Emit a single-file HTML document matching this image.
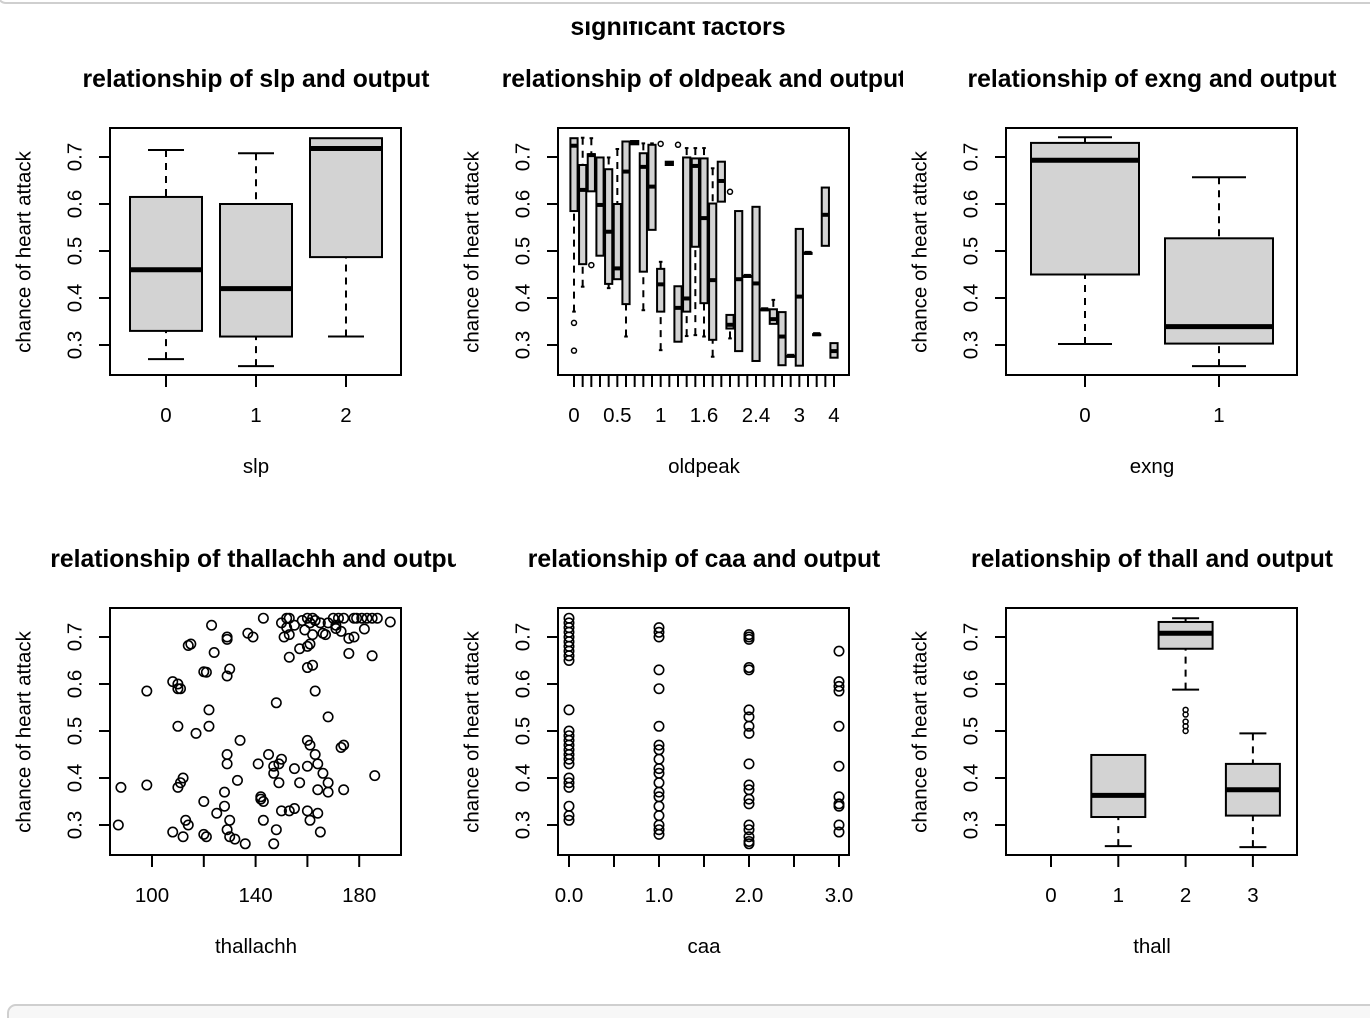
<!DOCTYPE html>
<html><head><meta charset="utf-8"><style>
html,body{margin:0;padding:0;background:#fff;}
svg{display:block;font-family:"Liberation Sans",Arial,sans-serif;}
</style></head><body>
<svg id="c" width="1370" height="1018" xmlns="http://www.w3.org/2000/svg">
<defs>
<clipPath id="col0"><rect x="0" y="0" width="456" height="1018"/></clipPath>
<clipPath id="col1"><rect x="457" y="0" width="446" height="1018"/></clipPath>
<clipPath id="col2"><rect x="913" y="0" width="457" height="1018"/></clipPath>
</defs>
<text x="678" y="35" font-size="25" font-weight="bold" text-anchor="middle">significant factors</text>
<rect x="0" y="0" width="1370" height="21" fill="#fff"/>
<rect x="-2" y="-20" width="1380" height="23" rx="8" fill="#fff" stroke="#cfcfcf" stroke-width="2"/>
<rect x="8" y="1005" width="1380" height="30" rx="8" fill="#f7f7f7" stroke="#cfcfcf" stroke-width="2"/>
</svg>
<script>
// ---- data ----
const slpCats=["0","1","2"];
const slpLo=[0.27,0.255,0.318],slpQ1=[0.33,0.318,0.487],slpMed=[0.46,0.42,0.718],slpQ3=[0.615,0.60,0.74],slpHi=[0.715,0.708,0.74];
const exCats=["0","1"];
const exLo=[0.302,0.255],exQ1=[0.45,0.303],exMed=[0.693,0.339],exQ3=[0.73,0.527],exHi=[0.742,0.657];
const thCats=["0","1","2","3"];
const thLo=[null,0.255,0.588,0.253],thQ1=[null,0.317,0.675,0.32],thMed=[null,0.363,0.708,0.375],thQ3=[null,0.449,0.732,0.43],thHi=[null,0.45,0.74,0.495];
const thOut=[[],[],[0.545,0.535,0.52,0.51,0.50],[]];
const olCats=["0","0.1","0.2","0.3","0.4","0.5","0.6","0.7","0.8","0.9","1","1.1","1.2","1.4","1.5","1.6","1.8","1.9","2","2.2","2.3","2.4","2.5","2.6","2.8","2.9","3","3.2","3.4","3.6","4"];
const olTickLabels={0:"0",5:"0.5",10:"1",15:"1.6",21:"2.4",26:"3",30:"4"};
const olQ1=[0.585,0.472,0.627,0.49,0.43,0.44,0.387,0.727,0.456,0.545,0.371,0.683,0.307,0.371,0.509,0.389,0.311,0.605,0.335,0.287,0.447,0.266,0.376,0.345,0.257,0.277,0.256,0.496,0.323,0.511,0.273];
const olMed=[0.724,0.63,0.704,0.598,0.541,0.463,0.669,0.73,0.679,0.637,0.429,0.686,0.379,0.399,0.681,0.57,0.438,0.649,0.343,0.44,0.447,0.431,0.376,0.355,0.318,0.277,0.403,0.496,0.323,0.577,0.287];
const olQ3=[0.74,0.683,0.706,0.699,0.674,0.60,0.733,0.734,0.708,0.726,0.462,0.69,0.425,0.699,0.697,0.697,0.601,0.69,0.364,0.585,0.447,0.594,0.376,0.376,0.37,0.277,0.547,0.496,0.323,0.635,0.304];
const olLo=[0.371,0.424,0.627,0.49,0.421,0.44,0.318,0.727,0.374,0.545,0.289,0.683,0.307,0.319,0.321,0.318,0.275,0.605,0.314,0.287,0.447,0.266,0.376,0.345,0.257,0.277,0.256,0.496,0.323,0.511,0.273];
const olHi=[0.74,0.741,0.74,0.699,0.699,0.717,0.733,0.734,0.729,0.729,0.477,0.69,0.425,0.719,0.719,0.719,0.676,0.672,0.364,0.585,0.447,0.594,0.376,0.396,0.37,0.277,0.547,0.496,0.323,0.635,0.304];
const olOut=[[0.347,0.288],[],[0.47],[],[],[],[],[],[],[],[0.728],[],[0.726],[],[],[],[],[],[0.626],[],[],[],[],[],[],[],[],[],[],[],[]];
const thalX=[123,143,150,152,153,155,158,160,161,162,163,165,168,170,171,172,174,178,179,181,183,185,187,192,182,171,173,152,159,166,162,153,151,167,178,176,137,139,129,129,115,114,124,161,160,157,153,176,185,162,160,129,130,110,108,110,111,98,163,120,121,
122,148,122,110,117,168,134,160,161,174,173,163,145,129,129,141,149,150,147,147,155,160,164,166,186,149,157,164,168,168,174,133,112,98,88,111,110,120,128,143,155,153,142,142,128,125,130,150,160,113,114,129,161,143,164,87,108,132,130,120,148,112,121,136,147,165];
const thalY=[0.725,0.74,0.73,0.74,0.74,0.725,0.735,0.74,0.73,0.74,0.735,0.73,0.73,0.74,0.725,0.74,0.74,0.74,0.74,0.74,0.74,0.74,0.74,0.732,0.717,0.718,0.712,0.72,0.715,0.708,0.705,0.705,0.70,0.705,0.70,0.697,0.708,0.70,0.70,0.695,0.685,0.682,0.667,0.685,0.68,0.675,0.657,0.665,0.66,0.64,0.635,0.617,0.632,0.59,0.605,0.60,0.59,0.585,0.585,0.626,0.625,
0.545,0.56,0.51,0.51,0.495,0.53,0.48,0.48,0.47,0.47,0.465,0.45,0.45,0.45,0.43,0.43,0.43,0.44,0.425,0.41,0.42,0.425,0.43,0.41,0.405,0.39,0.39,0.375,0.37,0.39,0.375,0.395,0.40,0.385,0.38,0.39,0.38,0.35,0.37,0.35,0.335,0.33,0.355,0.36,0.34,0.325,0.31,0.33,0.33,0.31,0.30,0.29,0.31,0.31,0.325,0.30,0.285,0.27,0.275,0.28,0.29,0.275,0.275,0.26,0.26,0.285];
const caaX=[0,0,0,0,0,0,0,0,0,0,0,0,0,0,0,0,0,0,0,0,0,0,0,0,0,1,1,1,1,1,1,1,1,1,1,1,1,1,1,1,1,1,1,1,2,2,2,2,2,2,2,2,2,2,2,2,2,2,2,2,2,2,2,3,3,3,3,3,3,3,3,3,3,3];
const caaY=[0.74,0.73,0.72,0.71,0.70,0.69,0.68,0.67,0.66,0.65,0.545,0.50,0.49,0.48,0.47,0.46,0.45,0.44,0.43,0.40,0.39,0.38,0.34,0.32,0.31,
0.72,0.71,0.70,0.63,0.59,0.51,0.47,0.46,0.44,0.42,0.41,0.39,0.37,0.36,0.34,0.32,0.30,0.29,0.28,
0.705,0.70,0.695,0.635,0.63,0.545,0.53,0.51,0.495,0.43,0.385,0.375,0.355,0.345,0.30,0.29,0.275,0.265,0.26,
0.67,0.605,0.595,0.585,0.51,0.425,0.36,0.345,0.34,0.30,0.285];
const yTicks=[0.3,0.4,0.5,0.6,0.7];
const thalTicks=[100,120,140,160,180], thalLabels=["100","","140","","180"];
const caaTicks=[0,0.5,1,1.5,2,2.5,3], caaLabels=["0.0","","1.0","","2.0","","3.0"];

// ---- drawing ----
const svg=document.getElementById('c');
const NS="http://www.w3.org/2000/svg";
function mk(tag,attrs,parent,name){const e=document.createElementNS(NS,tag);for(const k in attrs)e.setAttribute(k,attrs[k]);(parent||svg).appendChild(e);


return e;}
const W=291,H=247;
function panel(px,py,title,xlab,key,col){
  const g=mk('g',{},svg,key+'-panel');
  const yS=v=>py+217-(v-0.3)*470;
  const t=mk('text',{x:px+146,y:py-41,'font-size':24.7,'font-weight':'bold','text-anchor':'middle','clip-path':`url(#col${col})`},g,key+'-title');t.textContent=title;
  mk('rect',{x:px,y:py,width:W,height:H,fill:'none',stroke:'#000','stroke-width':2},g,key+'-plot-box');
  yTicks.forEach(v=>{const y=yS(v);
    mk('line',{x1:px-11,x2:px,y1:y,y2:y,stroke:'#000','stroke-width':2},g,key+'-y-tick');
    const l=mk('text',{x:px-35,y:y,'font-size':20.5,'text-anchor':'middle',transform:`rotate(-90 ${px-35} ${y})`,'dominant-baseline':'central'},g,key+'-y-tick-label');l.textContent=v.toFixed(1);});
  const yl=mk('text',{x:px-86,y:py+124,'font-size':20.5,'text-anchor':'middle',transform:`rotate(-90 ${px-86} ${py+124})`,'dominant-baseline':'central'},g,key+'-y-axis-title');yl.textContent='chance of heart attack';
  const xl=mk('text',{x:px+146,y:py+345,'font-size':20.5,'text-anchor':'middle'},g,key+'-x-axis-title');xl.textContent=xlab;
  return {g,yS};
}
function xAxis(g,px,py,xs,labels,key){
  xs.forEach((x,i)=>{mk('line',{x1:x,x2:x,y1:py+H,y2:py+H+12,stroke:'#000','stroke-width':2},g,key+'-x-tick');
    if(labels[i]){const t=mk('text',{x:x,y:py+H+47,'font-size':20.5,'text-anchor':'middle'},g,key+'-x-tick-label');t.textContent=labels[i];}});
}
function boxes(g,yS,xS,hw,lo,q1,med,q3,hi,outs,key,medW){
  lo.forEach((_,i)=>{if(lo[i]==null)return;const x=xS(i);
    const b=mk('g',{},g,key+'-box-'+i);
    [[hi[i],q3[i]],[lo[i],q1[i]]].forEach(([w,q])=>{if(Math.abs(yS(w)-yS(q))>1){
      mk('line',{x1:x,x2:x,y1:yS(w),y2:yS(q),stroke:'#000','stroke-width':2,'stroke-dasharray':'7 6'},b,key+'-whisker');
      mk('line',{x1:x-hw/2,x2:x+hw/2,y1:yS(w),y2:yS(w),stroke:'#000','stroke-width':2},b,key+'-staple');}});
    mk('rect',{x:x-hw,y:yS(q3[i]),width:2*hw,height:Math.max(1,yS(q1[i])-yS(q3[i])),fill:'#d3d3d3',stroke:'#000','stroke-width':2},b,key+'-box-body');
    mk('line',{x1:x-hw,x2:x+hw,y1:yS(med[i]),y2:yS(med[i]),stroke:'#000','stroke-width':medW||5},b,key+'-median');
    (outs[i]||[]).forEach(v=>mk('circle',{cx:x,cy:yS(v),r:2.5,fill:'none',stroke:'#000','stroke-width':1.5},b,key+'-outlier'));
  });
}
let p=panel(110,128,'relationship of slp and output','slp','slp',0);
{const xS=i=>166+i*90; boxes(p.g,p.yS,xS,36,slpLo,slpQ1,slpMed,slpQ3,slpHi,[],'slp'); xAxis(p.g,110,128,slpCats.map((_,i)=>xS(i)),slpCats,'slp');}
p=panel(558,128,'relationship of oldpeak and output','oldpeak','oldpeak',1);
{const xS=i=>574+i*8.667; boxes(p.g,p.yS,xS,3.6,olLo,olQ1,olMed,olQ3,olHi,olOut,'oldpeak',4); xAxis(p.g,558,128,olCats.map((_,i)=>xS(i)),olCats.map((_,i)=>olTickLabels[i]||''),'oldpeak');}
p=panel(1006,128,'relationship of exng and output','exng','exng',2);
{const xS=i=>1085+i*134; boxes(p.g,p.yS,xS,54,exLo,exQ1,exMed,exQ3,exHi,[],'exng'); xAxis(p.g,1006,128,exCats.map((_,i)=>xS(i)),exCats,'exng');}
p=panel(110,608,'relationship of thallachh and outpu','thallachh','thalachh',0);
{const xS=v=>152+(v-100)*2.59;
 thalX.forEach((v,i)=>mk('circle',{cx:xS(v),cy:p.yS(thalY[i]),r:4.7,fill:'none',stroke:'#000','stroke-width':1.6},p.g,'thalachh-point'));
 xAxis(p.g,110,608,thalTicks.map(xS),thalLabels,'thalachh');}
p=panel(558,608,'relationship of caa and output','caa','caa',1);
{const xS=v=>569+v*90;
 caaX.forEach((v,i)=>mk('circle',{cx:xS(v),cy:p.yS(caaY[i]),r:4.7,fill:'none',stroke:'#000','stroke-width':1.6},p.g,'caa-point'));
 xAxis(p.g,558,608,caaTicks.map(xS),caaLabels,'caa');}
p=panel(1006,608,'relationship of thall and output','thall','thall',2);
{const xS=i=>1051+i*67.3; boxes(p.g,p.yS,xS,27,thLo,thQ1,thMed,thQ3,thHi,thOut,'thall'); xAxis(p.g,1006,608,thCats.map((_,i)=>xS(i)),thCats,'thall');}
</script>
</body></html>
